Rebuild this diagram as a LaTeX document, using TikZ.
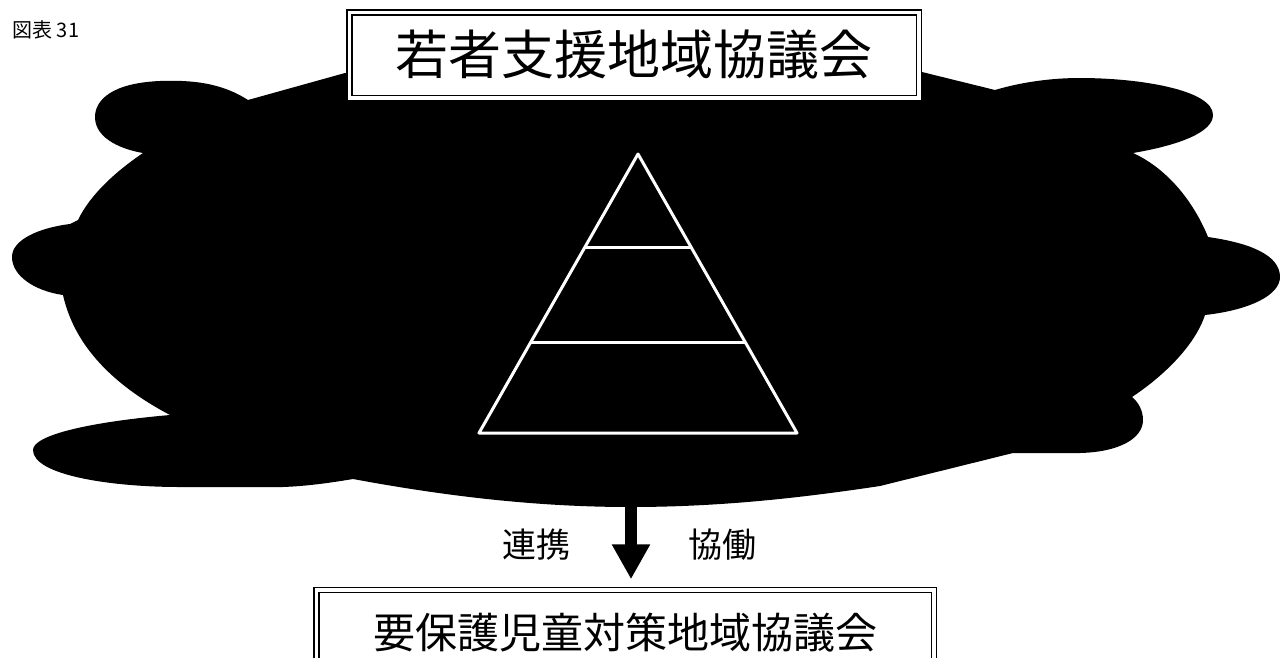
\documentclass[tikz,border=0pt]{standalone}
\usepackage{fontspec}
\newfontfamily\jpfont{Noto Sans CJK JP}
\usetikzlibrary{arrows.meta, positioning, calc}

\begin{document}
\begin{tikzpicture}[
  x=1pt, y=-1pt,
  >={Triangle[length=35pt, width=36pt]},
  board/.style={draw, double, double distance=3.5pt, line width=1.5pt,
    fill=white, inner sep=0pt},
  tier/.style={white, line width=3pt, line join=round},
  lbl/.style={font=\jpfont\fontsize{34}{34}\selectfont},
]

% Canvas
\useasboundingbox (0,0) rectangle (1286,657);
\clip (0,0) rectangle (1286,657);

% Figure number
\node[font=\jpfont\fontsize{20}{20}\selectfont, anchor=west] (figno) at (9,30) {図表 31};

% ========================================
% Cloud (black)
% ========================================
\fill[black]
  (345,73) -- (248,100)
  .. controls (220,82) and (190,80) .. (160,81)
  .. controls (112,83) and (95,100) .. (95,117)
  .. controls (95,140) and (125,150) .. (143,153)
  .. controls (115,172) and (90,195) .. (78,220) -- (70,224)
  .. controls (38,228) and (12,240) .. (12,257)
  .. controls (12,276) and (35,291) .. (63,295)
  .. controls (72,335) and (100,378) .. (170,415)
  .. controls (90,422) and (33,435) .. (33,450)
  .. controls (33,475) and (110,487) .. (180,487) -- (283,487)
  .. controls (310,486) and (335,482) .. (353,479)
  .. controls (450,497) and (540,507) .. (630,507)
  .. controls (720,507) and (800,498) .. (880,486) -- (1013,453)
  -- (1080,453)
  .. controls (1120,452) and (1143,438) .. (1143,420)
  .. controls (1143,410) and (1138,402) .. (1132,397)
  .. controls (1165,375) and (1195,345) .. (1205,315)
  .. controls (1250,310) and (1280,295) .. (1280,277)
  .. controls (1280,255) and (1250,243) .. (1208,237)
  .. controls (1195,205) and (1170,170) .. (1133,153)
  .. controls (1180,145) and (1213,132) .. (1213,115)
  .. controls (1213,90) and (1140,78) .. (1080,78)
  .. controls (1045,78) and (1015,84) .. (995,90)
  -- (922,72) -- cycle;

% Pyramid
\coordinate (apex) at (638,154);
\coordinate (bl) at (479,433);
\coordinate (br) at (797,433);
\draw[tier] (apex) -- (br) -- (bl) -- cycle;
\draw[tier] ($(apex)!1/3!(bl)$) -- ($(apex)!1/3!(br)$);
\draw[tier] ($(apex)!0.674!(bl)$) -- ($(apex)!0.674!(br)$);

% ========================================
% Councils
% ========================================
\node[board, minimum width=569.5pt, minimum height=85.5pt,
  font=\jpfont\fontsize{53}{53}\selectfont] (title) at (634,55) {若者支援地域協議会};

\node[board, minimum width=617.5pt, minimum height=86pt,
  font=\jpfont\fontsize{42}{42}\selectfont] (bottom) at (625,633) {要保護児童対策地域協議会};

% Link arrow
\coordinate (cloudbot) at (631,500);
\draw[->, line width=12pt, shorten >=10pt] (cloudbot) -- (cloudbot |- bottom.north);

\node[lbl] (renkei) at (536,545) {連携};
\node[lbl] (kyodo) at (722,545) {協働};

\end{tikzpicture}
\end{document}
